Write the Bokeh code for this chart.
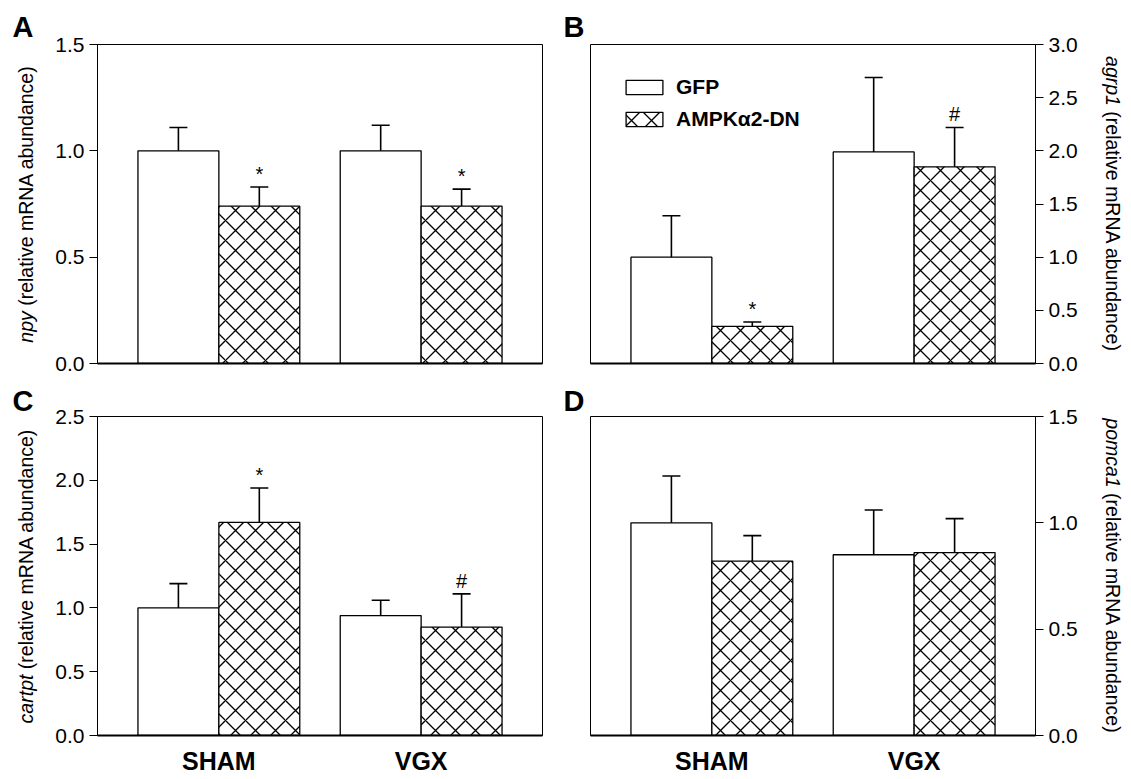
import math
from bokeh.plotting import figure
from bokeh.models import (Range1d, FixedTicker, NumeralTickFormatter, Label, Whisker,
                          TeeHead, ColumnDataSource, Legend, LegendItem, Title)
from bokeh.layouts import row, column
from bokeh.embed import file_html
from bokeh.resources import INLINE
from bokeh.core.properties import value

# ---------------- data ----------------
groups = ["SHAM", "VGX"]
series = ["GFP", "AMPKα2-DN"]

# A: npy
npy_gfp = [1.00, 1.00]
npy_gfp_sem = [0.11, 0.12]
npy_dn = [0.74, 0.74]
npy_dn_sem = [0.09, 0.08]
npy_sig = ["*", "*"]
npy_ticks = [0.0, 0.5, 1.0, 1.5]

# B: agrp1
agrp1_gfp = [1.00, 1.99]
agrp1_gfp_sem = [0.39, 0.70]
agrp1_dn = [0.35, 1.85]
agrp1_dn_sem = [0.04, 0.37]
agrp1_sig = ["*", "#"]
agrp1_ticks = [0.0, 0.5, 1.0, 1.5, 2.0, 2.5, 3.0]

# C: cartpt
cartpt_gfp = [1.00, 0.94]
cartpt_gfp_sem = [0.19, 0.12]
cartpt_dn = [1.67, 0.85]
cartpt_dn_sem = [0.27, 0.26]
cartpt_sig = ["*", "#"]
cartpt_ticks = [0.0, 0.5, 1.0, 1.5, 2.0, 2.5]

# D: pomca1
pomca1_gfp = [1.00, 0.85]
pomca1_gfp_sem = [0.22, 0.21]
pomca1_dn = [0.82, 0.86]
pomca1_dn_sem = [0.12, 0.16]
pomca1_sig = ["", ""]
pomca1_ticks = [0.0, 0.5, 1.0, 1.5]

panel_letters = ["A", "B", "C", "D"]
genes = ["npy", "agrp1", "cartpt", "pomca1"]
ylabel_rest = "(relative mRNA abundance)"

# ---------------- style / layout ----------------
FONT = "Liberation Sans"
FW, FH = 445, 319
BAR_W = 0.4
TICK_PX = "21px"
YLAB_PX = 19.5
ROW_B = [(44, 17), (36, 40)]   # per row: border top, border bottom
STRIP_L, STRIP_M, STRIP_R = 45, 28, 48
LETTER_STANDOFF = [4, 0]

# Arial / Liberation Sans advance widths (1/1000 em) for label layout
_W = {'a': 556, 'b': 556, 'c': 500, 'd': 556, 'e': 556, 'g': 556, 'i': 222, 'l': 222,
      'm': 833, 'n': 556, 'o': 556, 'p': 556, 'r': 333, 't': 278, 'u': 556, 'v': 500,
      'y': 500, '1': 556, 'R': 722, 'N': 722, 'A': 667, '(': 333, ')': 333, ' ': 278}


def tw(s, size):
    return sum(_W.get(ch, 556) for ch in s) * size / 1000.0


def make_panel(gfp, gfp_sem, dn, dn_sem, sig, ticks, side, bottom_labels, borders,
               legend=False):
    bl, br, bt, bb = borders
    p = figure(frame_width=FW, frame_height=FH,
               x_range=Range1d(-0.6, 1.6), y_range=Range1d(ticks[0], ticks[-1]),
               output_backend="svg", toolbar_location=None, y_axis_location=side,
               min_border_left=bl, min_border_right=br, min_border_top=bt, min_border_bottom=bb,
               background_fill_color="white", border_fill_color="white")
    p.outline_line_color = "black"
    p.outline_line_width = 1
    p.xgrid.visible = False
    p.ygrid.visible = False

    p.yaxis.ticker = FixedTicker(ticks=ticks)
    p.yaxis.formatter = NumeralTickFormatter(format="0.0")
    p.yaxis.major_label_text_font = FONT
    p.yaxis.major_label_text_font_size = TICK_PX
    p.yaxis.major_label_text_color = "black"
    p.yaxis.major_tick_out = 8
    p.yaxis.major_tick_in = 0
    p.yaxis.minor_tick_out = 0
    p.yaxis.minor_tick_in = 0
    p.yaxis.major_label_standoff = 5
    p.yaxis.axis_line_color = "black"
    p.yaxis.major_tick_line_color = "black"

    p.xaxis.axis_line_width = 2
    p.xaxis.axis_line_color = "black"
    p.xaxis.major_tick_out = 0
    p.xaxis.major_tick_in = 0
    p.xaxis.minor_tick_out = 0
    p.xaxis.minor_tick_in = 0
    if bottom_labels:
        p.xaxis.ticker = FixedTicker(ticks=list(range(len(groups))))
        p.xaxis.major_label_overrides = {i: g for i, g in enumerate(groups)}
        p.xaxis.major_label_text_font = FONT
        p.xaxis.major_label_text_font_size = "25px"
        p.xaxis.major_label_text_font_style = "bold"
        p.xaxis.major_label_text_color = "black"
        p.xaxis.major_label_standoff = 11
    else:
        p.xaxis.ticker = FixedTicker(ticks=[])
        p.xaxis.major_label_text_font_size = "0px"
        p.xaxis.major_label_standoff = 0

    idx = list(range(len(groups)))
    src_g = ColumnDataSource(dict(x=[i - BAR_W / 2 for i in idx], top=gfp,
                                  upper=[v + s for v, s in zip(gfp, gfp_sem)]))
    src_d = ColumnDataSource(dict(x=[i + BAR_W / 2 for i in idx], top=dn,
                                  upper=[v + s for v, s in zip(dn, dn_sem)], sig=sig))

    r1 = p.vbar(x="x", top="top", bottom=0, width=BAR_W, source=src_g,
                fill_color="white", line_color="black", line_width=1.3)
    r2 = p.vbar(x="x", top="top", bottom=0, width=BAR_W, source=src_d,
                fill_color="white", line_color="black", line_width=1.3,
                hatch_pattern="diagonal_cross", hatch_scale=20, hatch_weight=1.3,
                hatch_color="black")

    for src in (src_g, src_d):
        p.add_layout(Whisker(source=src, base="x", lower="top", upper="upper",
                             dimension="height", line_color="black", line_width=1.6,
                             level="overlay",
                             upper_head=TeeHead(size=18, line_width=1.6, line_color="black"),
                             lower_head=None))

    if any(sig):
        p.text(x="x", y="upper", text="sig", source=src_d, text_align="center",
               text_baseline="middle", y_offset=-13, text_font=value(FONT),
               text_font_size="20px", text_color="black")

    if legend:
        leg = Legend(items=[LegendItem(label=series[0], renderers=[r1]),
                            LegendItem(label=series[1], renderers=[r2])],
                     location="top_left", margin=31, padding=0, spacing=8,
                     glyph_width=46, glyph_height=18, label_height=18, label_standoff=9,
                     label_text_font=FONT, label_text_font_size="21px",
                     label_text_font_style="bold", label_text_color="black",
                     border_line_alpha=0, background_fill_alpha=0)
        p.add_layout(leg)
    return p


def make_strip(width, bt, bb, letter=None, offset=0, standoff=0):
    # blank figure with the same top/bottom borders as its row's panels, so that its
    # frame lines up with the panel frame; 1 data unit = 1 pixel; optional letter title
    title = None
    if letter is not None:
        title = Title(text=letter, align="left", offset=offset, standoff=standoff,
                      text_font=FONT, text_font_size="29px", text_font_style="bold",
                      text_color="black")
    s = figure(frame_width=width, frame_height=FH, title=title,
               min_border=0, min_border_left=0, min_border_right=0,
               min_border_top=bt, min_border_bottom=bb,
               x_range=Range1d(0, width), y_range=Range1d(0, FH),
               x_axis_location=None, y_axis_location=None,
               output_backend="svg", toolbar_location=None,
               background_fill_color="white", border_fill_color="white")
    s.outline_line_color = None
    s.grid.visible = False
    return s


def add_ylabel(s, gene, x, side):
    center_y = FH / 2
    g_w = tw(gene, YLAB_PX)
    sp = tw(" ", YLAB_PX)
    total = g_w + sp + tw(ylabel_rest, YLAB_PX)
    if side == "left":
        ang = math.pi / 2
        y0 = center_y - total / 2
        y1 = y0 + g_w + sp
    else:
        ang = -math.pi / 2
        y0 = center_y + total / 2
        y1 = y0 - g_w - sp
    s.add_layout(Label(x=x, y=y0, text=gene, angle=ang,
                       text_font=FONT, text_font_size=f"{YLAB_PX}px", text_font_style="italic",
                       text_color="black", text_align="left", text_baseline="middle"))
    s.add_layout(Label(x=x, y=y1, text=ylabel_rest, angle=ang,
                       text_font=FONT, text_font_size=f"{YLAB_PX}px",
                       text_color="black", text_align="left", text_baseline="middle"))


pA = make_panel(npy_gfp, npy_gfp_sem, npy_dn, npy_dn_sem, npy_sig, npy_ticks,
                "left", False, (52, 20) + ROW_B[0])
pB = make_panel(agrp1_gfp, agrp1_gfp_sem, agrp1_dn, agrp1_dn_sem, agrp1_sig, agrp1_ticks,
                "right", False, (0, 45) + ROW_B[0], legend=True)
pC = make_panel(cartpt_gfp, cartpt_gfp_sem, cartpt_dn, cartpt_dn_sem, cartpt_sig, cartpt_ticks,
                "left", True, (52, 20) + ROW_B[1])
pD = make_panel(pomca1_gfp, pomca1_gfp_sem, pomca1_dn, pomca1_dn_sem, pomca1_sig, pomca1_ticks,
                "right", True, (0, 45) + ROW_B[1])

strips = []
for r in range(2):
    bt, bb = ROW_B[r]
    sl = make_strip(STRIP_L, bt, bb, panel_letters[2 * r], 12, LETTER_STANDOFF[r])
    sm = make_strip(STRIP_M, bt, bb, panel_letters[2 * r + 1], 1, LETTER_STANDOFF[r])
    sr = make_strip(STRIP_R, bt, bb)
    add_ylabel(sl, genes[2 * r], 25, "left")
    add_ylabel(sr, genes[2 * r + 1], 32, "right")
    strips.append((sl, sm, sr))

layout = column(row(strips[0][0], pA, strips[0][1], pB, strips[0][2]),
                row(strips[1][0], pC, strips[1][1], pD, strips[1][2]))

open("out.html", "w").write(file_html(layout, INLINE))
